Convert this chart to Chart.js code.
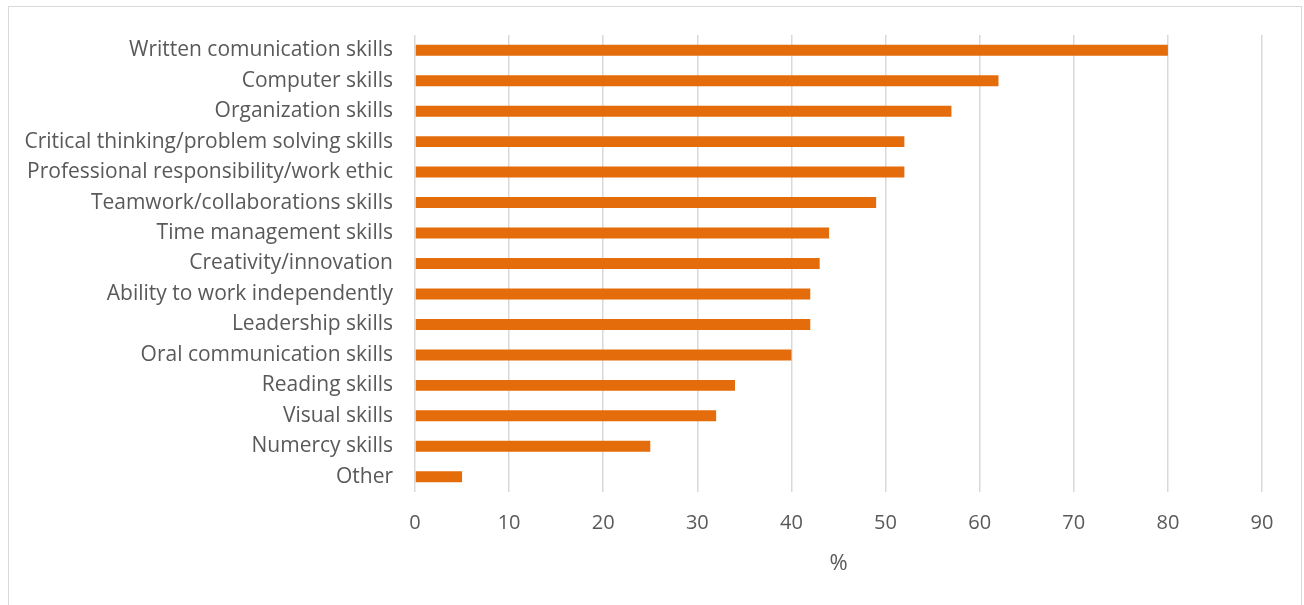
<!DOCTYPE html>
<html>
<head>
<meta charset="utf-8">
<script src="https://cdn.jsdelivr.net/npm/chart.js@4/dist/chart.umd.min.js"></script>
<style>
    html, body { margin: 0; padding: 0; background: #fff; }
    #wrap { position: relative; width: 1304px; height: 605px; }
    #frame {
        position: absolute; left: 8px; top: 6px; width: 1292px; height: 610px;
        border: 1px solid #d9d9d9; pointer-events: none;
    }
</style>
</head>
<body>
<div id="wrap">
    <canvas id="skillsChart" width="1304" height="605"></canvas>
    <div id="frame"></div>
</div>
<script>
// categories, top to bottom
const skills = [
    "Written comunication skills",
    "Computer skills",
    "Organization skills",
    "Critical thinking/problem solving skills",
    "Professional responsibility/work ethic",
    "Teamwork/collaborations skills",
    "Time management skills",
    "Creativity/innovation",
    "Ability to work independently",
    "Leadership skills",
    "Oral communication skills",
    "Reading skills",
    "Visual skills",
    "Numercy skills",
    "Other"
];

// percent of respondents
const percents = [80, 62, 57, 52, 52, 49, 44, 43, 42, 42, 40, 34, 32, 25, 5];

const axisMin = 0;
const axisMax = 90;
const axisStep = 10;
const axisTitle = "%";

const textColor = "#595959";
const fontFamily = "'Open Sans', 'Liberation Sans', sans-serif";

document.addEventListener("DOMContentLoaded", function() {
    const ctx = document.getElementById("skillsChart").getContext("2d");
    new Chart(ctx, {
        type: 'bar',
        data: {
            labels: skills,
            datasets: [{
                data: percents,
                backgroundColor: '#E46C0A',
                borderWidth: 0,
                categoryPercentage: 1.0,
                barPercentage: 0.36
            }]
        },
        options: {
            indexAxis: 'y',
            responsive: false,
            animation: false,
            layout: {
                padding: { left: 10, top: 35, right: 42, bottom: 0 }
            },
            scales: {
                x: {
                    min: axisMin,
                    max: axisMax,
                    ticks: {
                        stepSize: axisStep,
                        color: textColor,
                        padding: 19,
                        font: { family: fontFamily, size: 20 }
                    },
                    grid: {
                        color: '#d9d9d9',
                        lineWidth: 1.5,
                        drawTicks: false
                    },
                    border: { display: false },
                    title: {
                        display: true,
                        text: axisTitle,
                        color: textColor,
                        font: { family: fontFamily, size: 22 },
                        padding: { top: 6, bottom: 28 }
                    },
                    afterFit: function(scale) {
                        scale.height = 113;
                    }
                },
                y: {
                    ticks: {
                        color: textColor,
                        padding: 22,
                        font: { family: fontFamily, size: 21 }
                    },
                    grid: { display: false, drawTicks: false },
                    border: { display: false },
                    afterFit: function(scale) {
                        scale.width = 405;
                    }
                }
            },
            plugins: {
                legend: { display: false },
                tooltip: { enabled: false }
            }
        }
    });
});
</script>
</body>
</html>
